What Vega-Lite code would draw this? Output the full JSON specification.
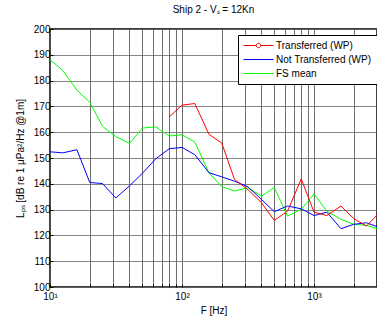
{
  "$schema": "https://vega.github.io/schema/vega-lite/v6.json",
  "width": 327,
  "height": 258,
  "autosize": {"type": "none"},
  "padding": {"left": 50, "top": 29, "right": 0, "bottom": 35},
  "title": {"text": "Ship 2 - Vₛ = 12Kn", "fontSize": 10, "font": "Liberation Sans", "fontWeight": "normal", "offset": 9, "anchor": "middle", "color": "black"},
  "config": {
    "view": {"stroke": "black", "strokeWidth": 1.5},
    "font": "Liberation Sans"
  },
  "data": {"values": [
    {"series": "FS mean", "f": 10, "L": 188.1},
    {"series": "FS mean", "f": 12.5, "L": 183.9},
    {"series": "FS mean", "f": 16, "L": 176.3},
    {"series": "FS mean", "f": 20, "L": 171.6},
    {"series": "FS mean", "f": 25, "L": 162.3},
    {"series": "FS mean", "f": 31.5, "L": 158.3},
    {"series": "FS mean", "f": 40, "L": 155.6},
    {"series": "FS mean", "f": 50, "L": 161.6},
    {"series": "FS mean", "f": 63, "L": 162.1},
    {"series": "FS mean", "f": 80, "L": 158.5},
    {"series": "FS mean", "f": 100, "L": 159.0},
    {"series": "FS mean", "f": 125, "L": 156.2},
    {"series": "FS mean", "f": 160, "L": 144.3},
    {"series": "FS mean", "f": 200, "L": 138.9},
    {"series": "FS mean", "f": 250, "L": 137.2},
    {"series": "FS mean", "f": 315, "L": 138.5},
    {"series": "FS mean", "f": 400, "L": 135.2},
    {"series": "FS mean", "f": 500, "L": 138.6},
    {"series": "FS mean", "f": 630, "L": 127.5},
    {"series": "FS mean", "f": 800, "L": 130.1},
    {"series": "FS mean", "f": 1000, "L": 136.1},
    {"series": "FS mean", "f": 1250, "L": 129.4},
    {"series": "FS mean", "f": 1600, "L": 126.2},
    {"series": "FS mean", "f": 2000, "L": 124.3},
    {"series": "FS mean", "f": 2500, "L": 123.9},
    {"series": "FS mean", "f": 3150, "L": 122.3},
    {"series": "Not Transferred (WP)", "f": 10, "L": 152.4},
    {"series": "Not Transferred (WP)", "f": 12.5, "L": 152.0},
    {"series": "Not Transferred (WP)", "f": 16, "L": 153.2},
    {"series": "Not Transferred (WP)", "f": 20, "L": 140.5},
    {"series": "Not Transferred (WP)", "f": 25, "L": 140.1},
    {"series": "Not Transferred (WP)", "f": 31.5, "L": 134.5},
    {"series": "Not Transferred (WP)", "f": 40, "L": 139.2},
    {"series": "Not Transferred (WP)", "f": 50, "L": 144.0},
    {"series": "Not Transferred (WP)", "f": 63, "L": 149.6},
    {"series": "Not Transferred (WP)", "f": 80, "L": 153.6},
    {"series": "Not Transferred (WP)", "f": 100, "L": 154.1},
    {"series": "Not Transferred (WP)", "f": 125, "L": 151.3},
    {"series": "Not Transferred (WP)", "f": 160, "L": 144.3},
    {"series": "Not Transferred (WP)", "f": 200, "L": 142.7},
    {"series": "Not Transferred (WP)", "f": 250, "L": 141.0},
    {"series": "Not Transferred (WP)", "f": 315, "L": 138.9},
    {"series": "Not Transferred (WP)", "f": 400, "L": 133.9},
    {"series": "Not Transferred (WP)", "f": 500, "L": 129.2},
    {"series": "Not Transferred (WP)", "f": 630, "L": 131.4},
    {"series": "Not Transferred (WP)", "f": 800, "L": 130.3},
    {"series": "Not Transferred (WP)", "f": 1000, "L": 127.7},
    {"series": "Not Transferred (WP)", "f": 1250, "L": 129.0},
    {"series": "Not Transferred (WP)", "f": 1600, "L": 122.6},
    {"series": "Not Transferred (WP)", "f": 2000, "L": 124.3},
    {"series": "Not Transferred (WP)", "f": 2500, "L": 124.9},
    {"series": "Not Transferred (WP)", "f": 3150, "L": 123.0},
    {"series": "Transferred (WP)", "f": 80, "L": 165.9},
    {"series": "Transferred (WP)", "f": 100, "L": 170.5},
    {"series": "Transferred (WP)", "f": 125, "L": 171.1},
    {"series": "Transferred (WP)", "f": 160, "L": 159.2},
    {"series": "Transferred (WP)", "f": 200, "L": 155.8},
    {"series": "Transferred (WP)", "f": 250, "L": 141.7},
    {"series": "Transferred (WP)", "f": 315, "L": 137.8},
    {"series": "Transferred (WP)", "f": 400, "L": 132.7},
    {"series": "Transferred (WP)", "f": 500, "L": 125.8},
    {"series": "Transferred (WP)", "f": 630, "L": 129.4},
    {"series": "Transferred (WP)", "f": 800, "L": 141.9},
    {"series": "Transferred (WP)", "f": 1000, "L": 129.0},
    {"series": "Transferred (WP)", "f": 1250, "L": 127.7},
    {"series": "Transferred (WP)", "f": 1600, "L": 131.4},
    {"series": "Transferred (WP)", "f": 2000, "L": 126.5},
    {"series": "Transferred (WP)", "f": 2500, "L": 123.6},
    {"series": "Transferred (WP)", "f": 3150, "L": 129.0}
  ]},
  "mark": {"type": "line", "clip": true, "strokeWidth": 1},
  "encoding": {
    "x": {
      "field": "f", "type": "quantitative",
      "scale": {"type": "log", "domain": [10, 3000], "nice": false},
      "axis": {
        "title": "F [Hz]", "titleFontSize": 10, "titleFontWeight": "normal", "titleColor": "black", "titlePadding": 4,
        "values": [10, 20, 30, 40, 50, 60, 70, 80, 90, 100, 200, 300, 400, 500, 600, 700, 800, 900, 1000, 2000, 3000],
        "labelExpr": "datum.value == 10 ? '10¹' : datum.value == 100 ? '10²' : datum.value == 1000 ? '10³' : ''",
        "labelFontSize": 10, "labelColor": "black", "labelPadding": 7, "labelFlush": false,
        "grid": true, "gridColor": "#555555", "gridOpacity": 0.85, "gridWidth": 1,
        "tickSize": -3, "tickColor": "black",
        "domain": false
      }
    },
    "y": {
      "field": "L", "type": "quantitative",
      "scale": {"domain": [100, 200], "nice": false},
      "axis": {
        "title": "Lₚₛ [dB re 1 μPa²/Hz @1m]", "titleFontSize": 10, "titleFontWeight": "normal", "titleColor": "black", "titlePadding": 8,
        "values": [100, 110, 120, 130, 140, 150, 160, 170, 180, 190, 200],
        "labelFontSize": 10, "labelColor": "black", "labelPadding": 3, "labelFlush": false,
        "grid": true, "gridColor": "#666666", "gridOpacity": 0.8, "gridWidth": 1,
        "tickSize": -3, "tickColor": "black",
        "domain": false
      }
    },
    "color": {
      "field": "series", "type": "nominal",
      "scale": {"domain": ["Transferred (WP)", "Not Transferred (WP)", "FS mean"], "range": ["#ff0000", "#0000ff", "#00ff00"]},
      "legend": {
        "title": null, "orient": "none", "legendX": 188, "legendY": 6,
        "strokeColor": "black", "fillColor": "white", "padding": 5,
        "symbolType": "M-3,0H3", "symbolSize": 100, "symbolStrokeWidth": 1, "symbolOffset": 10,
        "labelFontSize": 10, "labelColor": "black", "labelOffset": 12, "rowPadding": 3,
        "encode": {"symbols": {"update": {"shape": {"signal": "datum.value == 'Transferred (WP)' ? 'M-3,0H-0.45M0.45,0H3M0.45,0A0.45,0.45,0,1,1,-0.45,0A0.45,0.45,0,1,1,0.45,0' : 'M-3,0H3'"}}}}
      }
    }
  }
}
